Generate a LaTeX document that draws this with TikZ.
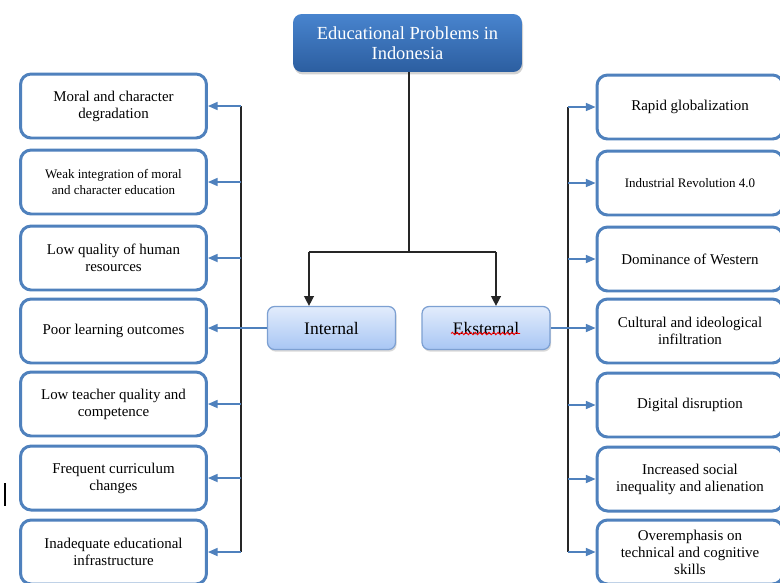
\documentclass[tikz,border=0pt]{standalone}
\usepackage{fontspec}
\setmainfont{Liberation Serif}
\usetikzlibrary{shadows,decorations.pathmorphing,arrows.meta}
\definecolor{boxblue}{RGB}{79,129,189}
\definecolor{headtop}{RGB}{72,132,206}
\definecolor{headbot}{RGB}{44,94,160}
\definecolor{cattop}{RGB}{226,236,252}
\definecolor{catbot}{RGB}{168,198,244}
\definecolor{catline}{RGB}{125,160,210}
\tikzset{>=stealth}
\tikzset{
  headbox/.style={rounded corners=5pt, top color=headtop, bottom color=headbot,
    draw=none, text=white, align=center, minimum width=4.58cm, minimum height=1.16cm,
    font=\fontsize{10.5}{11.5}\selectfont,
    drop shadow={opacity=0.35, shadow xshift=0.6pt, shadow yshift=-1.4pt}},
  catbox/.style={rounded corners=4pt, top color=cattop, bottom color=catbot,
    draw=catline, line width=0.7pt, minimum width=2.56cm, minimum height=0.86cm,
    font=\fontsize{10}{12}\selectfont,
    drop shadow={opacity=0.3, shadow xshift=0.6pt, shadow yshift=-1.2pt}},
  itembox/.style={rounded corners=6pt, draw=boxblue, line width=1.7pt, fill=white,
    align=center, minimum width=3.72cm, minimum height=1.28cm,
    font=\fontsize{8.5}{9.7}\selectfont},
  plain/.style={},
  smalltext/.style={font=\fontsize{7.4}{9}\selectfont},
  feed/.style={-{Triangle[length=5.5pt,width=4.6pt]}, draw=boxblue, fill=boxblue, line width=0.8pt},
  trunk/.style={draw=black!85, line width=0.8pt},
  drop/.style={-{Triangle[length=5.5pt,width=5.5pt]}}
}

\begin{document}
\begin{tikzpicture}[x=0.02cm, y=-0.02cm]
    \useasboundingbox[fill=white] (0,0) rectangle (780,582);

    % heading and the two groups
    \node[headbox] (head) at (407.5,43) {Educational  Problems  in\\Indonesia};
    \node[catbox] (int) at (331.5,328) {Internal};
    \node[catbox] (ext) at (486,328) {Eksternal};
    \draw[red, line width=0.5pt, decorate, decoration={snake, amplitude=0.7pt, segment length=2.6pt}]
      (451,333.5) -- (520,333.5);

    % internal problems
    \foreach \y/\f/\t [count=\i] in {106/plain/{Moral and character\\degradation},
        182/smalltext/{Weak integration of moral\\and character education},
        258/plain/{Low quality of human\\resources},
        331/plain/{Poor learning outcomes},
        404/plain/{Low teacher quality and\\competence},
        478/plain/{Frequent curriculum\\changes},
        552/plain/{Inadequate educational\\infrastructure}} {
        \node[itembox,\f] (l\i) at (113.5,\y) {\t};
      }

    % external problems
    \foreach \y/\f/\t [count=\i] in {107/plain/{Rapid globalization},
        183/smalltext/{Industrial Revolution 4.0},
        259/plain/{Dominance of Western},
        331/plain/{Cultural and ideological\\infiltration},
        405/plain/{Digital disruption},
        479/plain/{Increased social\\inequality and alienation},
        552/plain/{Overemphasis on\\technical and cognitive\\skills}} {
        \node[itembox,\f] (r\i) at (690,\y) {\t};
      }

    % heading to groups
    \coordinate (split) at (409,252);
    \coordinate (si) at (309,252);
    \coordinate (se) at (496,252);
    \draw[trunk] (split |- head.south) -- (split);
    \draw[trunk] (si) -- (se);
    \draw[trunk,drop] (si) -- (si |- int.north);
    \draw[trunk,drop] (se) -- (se |- ext.north);

    % side trunks and feeds
    \coordinate (lt) at (241,0);
    \coordinate (rt) at (568,0);
    \draw[trunk] (lt |- l1.east) -- (lt |- l7.east);
    \draw[trunk] (rt |- r1.west) -- (rt |- r7.west);
    \foreach \i in {1,2,3,5,6,7} {
        \draw[feed] (lt |- l\i.east) -- (l\i.east);
        \draw[feed] (rt |- r\i.west) -- (r\i.west);
      }
    \draw[feed] (int.west) -- (int.west -| l4.east);
    \draw[feed] (ext.east) -- (ext.east -| r4.west);

    % stray mark
    \draw[black, line width=0.8pt] (5,483) -- (5,506);
  \end{tikzpicture}
\end{document}
